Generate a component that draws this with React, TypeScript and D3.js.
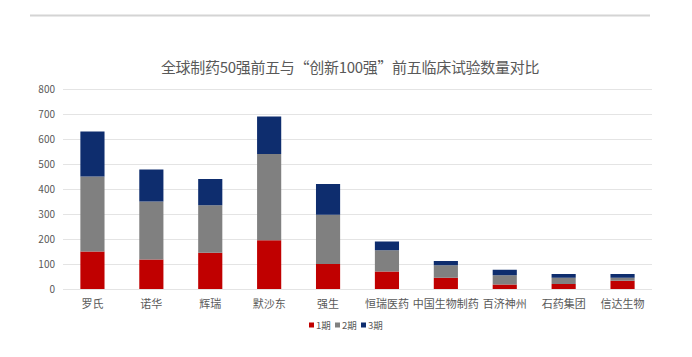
import React from "react";
import * as d3 from "d3";

const categories = ["罗氏", "诺华", "辉瑞", "默沙东", "强生", "恒瑞医药", "中国生物制药", "百济神州", "石药集团", "信达生物"];
const phase1 = [150, 118, 145, 195, 100, 70, 45, 18, 20, 33];
const phase2 = [300, 232, 190, 345, 197, 85, 50, 37, 25, 12];
const phase3 = [180, 128, 105, 150, 123, 35, 17, 22, 15, 15];
const seriesNames = ["1期", "2期", "3期"];
const colors = ["#C00000", "#808080", "#0E2D6E"];
const yTicks = [0, 100, 200, 300, 400, 500, 600, 700, 800];
const title = "全球制药50强前五与“创新100强”前五临床试验数量对比";

const W = 692, H = 357;
const margin = { left: 63, right: 40, top: 89, bottom: 68 };
const FONT = "'Noto Sans CJK SC', 'Noto Sans', sans-serif";

export default function App() {
  const x = d3.scaleBand<string>().domain(categories).range([margin.left, W - margin.right]).paddingInner(0.59).paddingOuter(0.295);
  const y = d3.scaleLinear().domain([0, 800]).range([H - margin.bottom, margin.top]);
  const rows = categories.map((c, i) => ({ cat: c, p1: phase1[i], p2: phase2[i], p3: phase3[i] }));
  const stacked = d3.stack<any>().keys(["p1", "p2", "p3"])(rows);

  const legendPitch = 26;
  const legendStart = 309;

  return (
    <svg width={W} height={H} style={{ position: "absolute", left: 0, top: 0, background: "#fff" }} fontFamily={FONT}>
      <rect x={0} y={0} width={W} height={H} fill="#fff" />
      <line x1={30} x2={650} y1={15.5} y2={15.5} stroke="#D4D4D4" strokeWidth={2} />
      <text x={350} y={73} textAnchor="middle" fontSize={15} letterSpacing={-0.3} fill="#595959">{title}</text>
      {yTicks.map((t) => (
        <g key={t}>
          <line x1={margin.left} x2={W - margin.right} y1={Math.round(y(t)) + 0.5} y2={Math.round(y(t)) + 0.5} stroke="#E4E4E4" strokeWidth={1} />
          <text x={55} y={y(t) + 3.5} textAnchor="end" fontSize={10} fill="#595959">{t}</text>
        </g>
      ))}
      {stacked.map((s, si) => (
        <g key={si} fill={colors[si]}>
          {s.map((d: any, i: number) => (
            <rect key={i} x={x(categories[i])} width={x.bandwidth()} y={y(d[1])} height={y(d[0]) - y(d[1])} />
          ))}
        </g>
      ))}
      {categories.map((c) => (
        <text key={c} x={(x(c) as number) + x.bandwidth() / 2} y={308} textAnchor="middle" fontSize={11} fill="#595959">{c}</text>
      ))}
      {seriesNames.map((n, i) => {
        const lx = legendStart + i * legendPitch;
        return (
          <g key={n}>
            <rect x={lx} y={322.5} width={5} height={5} fill={colors[i]} />
            <text x={lx + 7} y={328.5} fontSize={9.5} fill="#595959">{n}</text>
          </g>
        );
      })}
    </svg>
  );
}
